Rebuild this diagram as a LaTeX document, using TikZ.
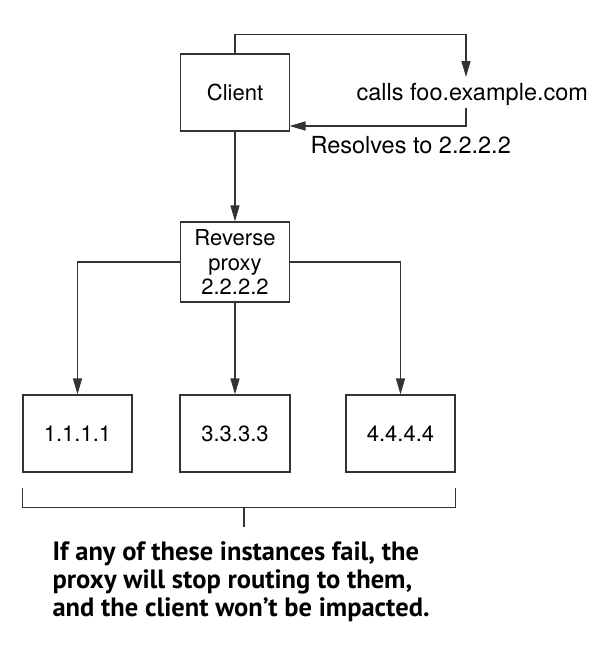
\documentclass[tikz,border=0pt]{standalone}
\usepackage{fontspec}
\setmainfont{TeX Gyre Heros}
\newfontfamily\notefont{PT Sans}
\usetikzlibrary{arrows.meta}

\begin{document}
\begin{tikzpicture}[x=1pt, y=-1pt, line width=1.2pt, color=black!80,
  box/.style={draw, minimum width=109pt, minimum height=77pt, inner sep=0pt,
    text=black, font=\fontsize{22}{24.5}\selectfont},
  lbl/.style={inner sep=0pt, text=black, font=\fontsize{23.5}{28}\selectfont},
  arr/.style={-{Triangle[length=16pt,width=9pt]}}]
\useasboundingbox (0,0) rectangle (614,654);

% client and the name lookup
\node[box] (client) at (235,92.5) {Client};
\node[lbl, anchor=base west] (calls) at (356,100) {calls foo.example.com};
\node[lbl, anchor=base west] (resolves) at (310,153) {Resolves to 2.2.2.2};
\coordinate (callin) at (466,77);
\coordinate (resout) at (466,108);
\coordinate (resin) at (289.5,126);
\draw[arr] (client.north) -- ++(0,-19) -| (callin);
\draw[arr] (resout) |- (resin);

% proxy
\node[box, minimum height=80pt, align=center] (proxy) at (235,262) {Reverse\\proxy\\2.2.2.2};
\draw[arr] (client) -- (proxy);

% instances
\node[box] (ipa) at (77.5,433.5) {1.1.1.1};
\node[box, minimum width=110pt] (ipb) at (235,433.5) {3.3.3.3};
\node[box] (ipc) at (400.5,433.5) {4.4.4.4};
\draw[arr] (proxy.west) -| (ipa.north);
\draw[arr] (proxy) -- (ipb);
\draw[arr] (proxy.east) -| (ipc.north);

% bracket under the instances
\draw ([yshift=-15pt]ipa.south west) -- ++(0,20) -| ([yshift=-15pt]ipc.south east);
\coordinate (brace) at (244,507);
\draw (brace) -- ++(0,20);
\node[anchor=north west, align=left, inner sep=0pt, text=black,
  font=\notefont\bfseries\fontsize{26.5}{28}\selectfont] (note) at (52,541)
  {If any of these instances fail, the\\proxy will stop routing to them,\\and the client won’t be impacted.};
\end{tikzpicture}
\end{document}
